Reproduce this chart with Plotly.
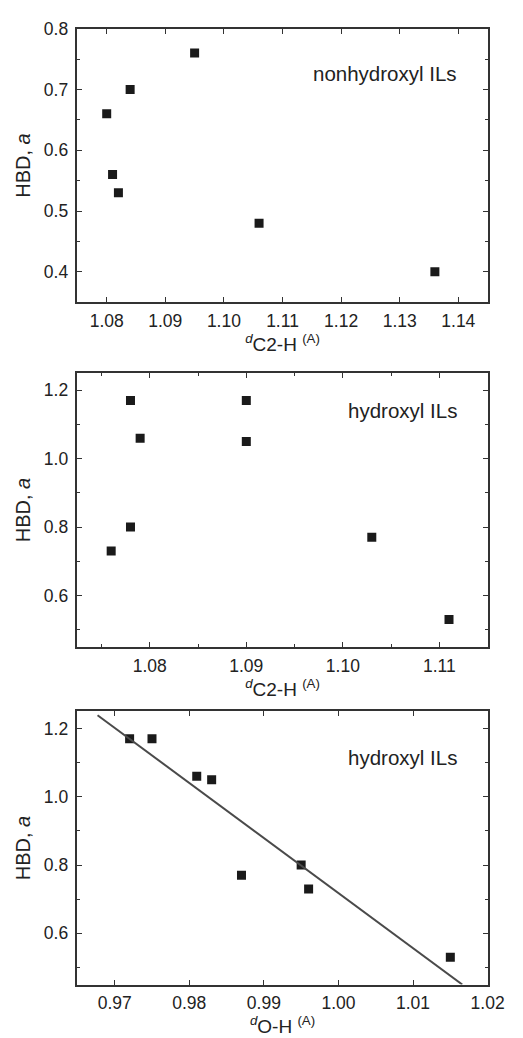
import plotly.graph_objects as go

# Panel 1: nonhydroxyl ILs
p1_x = [1.080, 1.081, 1.082, 1.084, 1.095, 1.106, 1.136]
p1_y = [0.66, 0.56, 0.53, 0.70, 0.76, 0.48, 0.40]
p1_xticks = [1.08, 1.09, 1.10, 1.11, 1.12, 1.13, 1.14]
p1_yticks = [0.4, 0.5, 0.6, 0.7, 0.8]

# Panel 2: hydroxyl ILs vs C2-H
p2_x = [1.078, 1.079, 1.090, 1.090, 1.078, 1.076, 1.103, 1.111]
p2_y = [1.17, 1.06, 1.17, 1.05, 0.80, 0.73, 0.77, 0.53]
p2_xticks = [1.08, 1.09, 1.10, 1.11]
p2_yticks = [0.6, 0.8, 1.0, 1.2]

# Panel 3: hydroxyl ILs vs O-H
p3_x = [0.972, 0.975, 0.981, 0.983, 0.987, 0.995, 0.996, 1.015]
p3_y = [1.17, 1.17, 1.06, 1.05, 0.77, 0.80, 0.73, 0.53]
p3_xticks = [0.97, 0.98, 0.99, 1.00, 1.01, 1.02]
p3_yticks = [0.6, 0.8, 1.0, 1.2]
fit_x = [0.9677, 1.0166]
fit_y = [1.239, 0.45]

W, H = 523, 1038
FONT = "Liberation Sans, Arial, sans-serif"
AX = "#333333"
MK = "#1a1a1a"
TXT = "#222222"

fig = go.Figure()
marker = dict(symbol="square", size=9, color=MK)
fig.add_trace(go.Scatter(x=p1_x, y=p1_y, mode="markers", marker=marker, xaxis="x", yaxis="y", showlegend=False))
fig.add_trace(go.Scatter(x=p2_x, y=p2_y, mode="markers", marker=marker, xaxis="x2", yaxis="y2", showlegend=False))
fig.add_trace(go.Scatter(x=p3_x, y=p3_y, mode="markers", marker=marker, xaxis="x3", yaxis="y3", showlegend=False))
fig.add_trace(go.Scatter(x=fit_x, y=fit_y, mode="lines", line=dict(color="#4a4a4a", width=2),
                         xaxis="x3", yaxis="y3", showlegend=False, cliponaxis=True))

xdom = [80 / W, 504 / W]
def ydom(top, bot):
    return [1 - bot / H, 1 - top / H]

def xaxis(rng, ticks, fmt, anchor, minor_dtick=None, title=""):
    d = dict(domain=xdom, range=rng, tickvals=ticks, tickformat=fmt, anchor=anchor,
             showline=True, linecolor=AX, linewidth=1.5, mirror="allticks",
             ticks="inside", ticklen=5, tickwidth=1.2, tickcolor=AX,
             showgrid=False, zeroline=False, ticklabelstandoff=2,
             tickfont=dict(family=FONT, size=17.5, color=TXT),
             title=dict(text=title, font=dict(family=FONT, size=19, color=TXT), standoff=4))
    if minor_dtick:
        d["minor"] = dict(dtick=minor_dtick, ticks="inside", ticklen=3, tickcolor=AX, showgrid=False)
    return d

def yaxis(rng, ticks, fmt, anchor, minor_dtick, dom):
    return dict(domain=dom, range=rng, tickvals=ticks, tickformat=fmt, anchor=anchor,
                showline=True, linecolor=AX, linewidth=1.5, mirror="allticks",
                ticks="inside", ticklen=5, tickwidth=1.2, tickcolor=AX,
                showgrid=False, zeroline=False, ticklabelstandoff=4,
                tickfont=dict(family=FONT, size=17.5, color=TXT),
                minor=dict(dtick=minor_dtick, tick0=0, ticks="inside", ticklen=3, tickcolor=AX, showgrid=False),
                title=dict(text="HBD, <i>a</i>", font=dict(family=FONT, size=20, color=TXT), standoff=8))

xt_c2h = "<sup><i>d</i></sup>C2-H <sup>(A)</sup>"
xt_oh = "<sup><i>d</i></sup>O-H <sup>(A)</sup>"

fig.update_layout(
    width=W, height=H, margin=dict(l=0, r=0, t=0, b=0),
    paper_bgcolor="white", plot_bgcolor="white",
    xaxis=xaxis([1.075, 1.145], p1_xticks, ".2f", "y", None, xt_c2h),
    xaxis2=xaxis([1.0725, 1.115], p2_xticks, ".2f", "y2", 0.005, xt_c2h),
    xaxis3=xaxis([0.965, 1.02], p3_xticks, ".2f", "y3", None, xt_oh),
    yaxis=yaxis([0.35, 0.8], p1_yticks, ".1f", "x", 0.05, ydom(19, 295)),
    yaxis2=yaxis([0.45, 1.25], p2_yticks, ".1f", "x2", 0.1, ydom(366.7, 643)),
    yaxis3=yaxis([0.45, 1.25], p3_yticks, ".1f", "x3", 0.1, ydom(708.3, 984)),
)

labels = ["nonhydroxyl ILs", "hydroxyl ILs", "hydroxyl ILs"]
label_y = [64, 404, 755]
for t, yy in zip(labels, label_y):
    fig.add_annotation(text=t, xref="paper", yref="paper", x=474 / W, y=1 - yy / H,
                       xanchor="right", yanchor="middle", showarrow=False,
                       font=dict(family=FONT, size=20.5, color=TXT))

fig.write_html("out.html")
